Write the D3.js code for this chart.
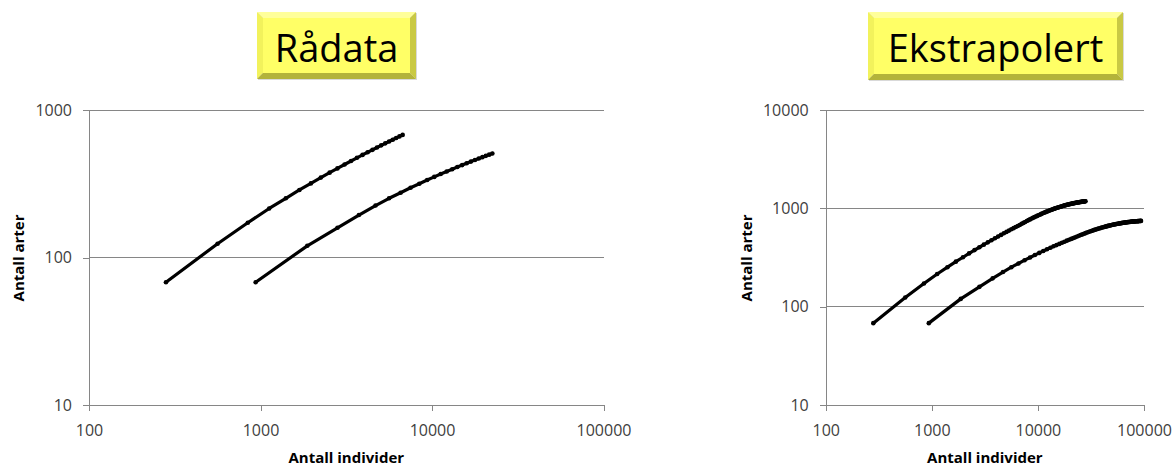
<!DOCTYPE html>
<html>
<head>
<meta charset="utf-8">
<script src="https://cdn.jsdelivr.net/npm/d3@7"></script>
<style>
  body { margin: 0; background: #fff; }
  svg { display: block; }
</style>
</head>
<body>
<svg id="chart" width="1175" height="466"></svg>
<script>
// Sample-based species accumulation: individuals sampled vs. number of species.
// Series A (smaller sample) and series B (larger sample); first 24 samples are observed,
// samples 25-100 are extrapolated.
const individualsA = [281, 562, 843, 1124, 1405, 1686, 1967, 2248, 2529, 2810, 3091, 3372, 3653, 3934, 4215, 4496, 4777, 5058, 5339, 5620, 5901, 6182, 6463, 6744,
  7025, 7306, 7587, 7868, 8149, 8430, 8711, 8992, 9273, 9554, 9835, 10116, 10397, 10678, 10959, 11240, 11521, 11802, 12083, 12364, 12645, 12926, 13207, 13488, 13769, 14050,
  14331, 14612, 14893, 15174, 15455, 15736, 16017, 16298, 16579, 16860, 17141, 17422, 17703, 17984, 18265, 18546, 18827, 19108, 19389, 19670, 19951, 20232, 20513, 20794, 21075,
  21356, 21637, 21918, 22199, 22480, 22761, 23042, 23323, 23604, 23885, 24166, 24447, 24728, 25009, 25290, 25571, 25852, 26133, 26414, 26695, 26976, 27257, 27538, 27819, 28100];
const speciesA = [68, 124, 172, 215, 252, 287, 318, 348, 376, 402, 427, 451, 474, 496, 517, 537, 557, 576, 594, 612, 629, 646, 662, 678,
  695, 711, 727, 743, 758, 772, 786, 800, 813, 826, 838, 850, 862, 873, 884, 895, 905, 915, 925, 934, 943, 952, 961, 969, 977, 985,
  993, 1000, 1007, 1014, 1021, 1027, 1033, 1039, 1045, 1051, 1057, 1062, 1067, 1072, 1077, 1082, 1087, 1091, 1095, 1100, 1104, 1108, 1111, 1115, 1119,
  1122, 1126, 1129, 1132, 1135, 1138, 1141, 1144, 1147, 1149, 1152, 1154, 1157, 1159, 1161, 1163, 1166, 1168, 1170, 1171, 1173, 1175, 1177, 1179, 1180];

const individualsB = [937, 1874, 2811, 3748, 4685, 5622, 6559, 7496, 8433, 9370, 10307, 11244, 12181, 13118, 14055, 14992, 15929, 16866, 17803, 18740, 19677, 20614, 21551, 22488,
  23425, 24362, 25299, 26236, 27173, 28110, 29047, 29984, 30921, 31858, 32795, 33732, 34669, 35606, 36543, 37480, 38417, 39354, 40291, 41228, 42165, 43102, 44039, 44976, 45913, 46850,
  47787, 48724, 49661, 50598, 51535, 52472, 53409, 54346, 55283, 56220, 57157, 58094, 59031, 59968, 60905, 61842, 62779, 63716, 64653, 65590, 66527, 67464, 68401, 69338, 70275,
  71212, 72149, 73086, 74023, 74960, 75897, 76834, 77771, 78708, 79645, 80582, 81519, 82456, 83393, 84330, 85267, 86204, 87141, 88078, 89015, 89952, 90889, 91826, 92763, 93700];
const speciesB = [68, 120, 159, 194, 225, 252, 275, 297, 316, 335, 352, 368, 383, 397, 411, 423, 435, 447, 458, 469, 479, 489, 498, 507,
  517, 526, 535, 543, 551, 559, 567, 574, 581, 588, 594, 601, 607, 612, 618, 623, 628, 633, 638, 643, 647, 651, 655, 659, 663, 667,
  670, 673, 677, 680, 683, 686, 688, 691, 694, 696, 698, 701, 703, 705, 707, 709, 711, 713, 714, 716, 718, 719, 721, 722, 724,
  725, 726, 727, 729, 730, 731, 732, 733, 734, 735, 736, 737, 737, 738, 739, 740, 740, 741, 742, 742, 743, 744, 744, 745, 745];

const observedSamples = 24;

const xTicks = [100, 1000, 10000, 100000];
const yTicksRaw = [10, 100, 1000];
const yTicksExtra = [10, 100, 1000, 10000];

const titles = ["Rådata", "Ekstrapolert"];
const xTitle = "Antall individer";
const yTitle = "Antall arter";

const svg = d3.select("#chart");
const gridColor = "#868686";
const fontFamily = "'Open Sans', 'Liberation Sans', sans-serif";

function titleBox(x0, y0, w, h, text) {
  const g = svg.append("g");
  const b = 6;
  // faint drop shadow
  g.append("rect").attr("x", x0 + 1).attr("y", y0 + 1).attr("width", w).attr("height", h)
    .attr("fill", "#d9d9d9");
  // bevelled frame
  const x1 = x0 + w, y1 = y0 + h;
  const face = (pts, fill) => g.append("polygon").attr("points", pts.map(p => p.join(",")).join(" ")).attr("fill", fill);
  face([[x0, y0], [x1, y0], [x1 - b, y0 + b], [x0 + b, y0 + b]], "#ffff9a");
  face([[x0, y0], [x0 + b, y0 + b], [x0 + b, y1 - b], [x0, y1]], "#f2f25c");
  face([[x0, y1], [x0 + b, y1 - b], [x1 - b, y1 - b], [x1, y1]], "#b3b33a");
  face([[x1, y0], [x1, y1], [x1 - b, y1 - b], [x1 - b, y0 + b]], "#c9c944");
  g.append("rect").attr("x", x0 + b).attr("y", y0 + b).attr("width", w - 2 * b).attr("height", h - 2 * b)
    .attr("fill", "#ffff66");
  g.append("text").attr("x", x0 + w / 2).attr("y", y0 + 50)
    .attr("text-anchor", "middle")
    .attr("font-family", fontFamily).attr("font-size", 38).attr("fill", "#000")
    .text(text);
}

function panel(opt) {
  const x = d3.scaleLog().domain([100, 100000]).range([opt.left, opt.right]);
  const y = d3.scaleLog().domain([opt.yTicks[0], opt.yTicks[opt.yTicks.length - 1]]).range([405, 110]);
  const g = svg.append("g");

  // horizontal gridlines
  g.selectAll("line.grid").data(opt.yTicks.slice(1)).join("line")
    .attr("x1", opt.left).attr("x2", opt.right)
    .attr("y1", d => y(d)).attr("y2", d => y(d))
    .attr("stroke", gridColor).attr("stroke-width", 1).attr("shape-rendering", "crispEdges");

  const yAxis = g.append("g").attr("transform", `translate(${opt.left},0)`)
    .call(d3.axisLeft(y).tickValues(opt.yTicks).tickFormat(d3.format("d")).tickSize(6).tickPadding(11));
  const xAxis = g.append("g").attr("transform", "translate(0,405)")
    .call(d3.axisBottom(x).tickValues(xTicks).tickFormat(d3.format("d")).tickSize(6).tickPadding(14));
  [yAxis, xAxis].forEach(a => {
    a.selectAll("path, line").attr("stroke", gridColor).attr("shape-rendering", "crispEdges");
    a.selectAll("text").attr("font-family", fontFamily).attr("font-size", 16).attr("fill", "#404040");
  });

  // axis titles
  g.append("text")
    .attr("transform", `translate(${opt.yTitleX},258) rotate(-90)`)
    .attr("text-anchor", "middle")
    .attr("font-family", fontFamily).attr("font-weight", "bold").attr("font-size", 15).attr("fill", "#000")
    .text(yTitle);
  g.append("text")
    .attr("x", (opt.left + opt.right) / 2).attr("y", 463)
    .attr("text-anchor", "middle")
    .attr("font-family", fontFamily).attr("font-weight", "bold").attr("font-size", 15).attr("fill", "#000")
    .text(xTitle);

  const line = d3.line().x(d => x(d[0])).y(d => y(d[1]));
  opt.series.forEach(s => {
    const pts = d3.zip(s.xs, s.ys);
    g.append("path").datum(pts).attr("d", line)
      .attr("fill", "none").attr("stroke", "#000").attr("stroke-width", 3.2)
      .attr("stroke-linejoin", "round").attr("stroke-linecap", "round");
    g.append("g").selectAll("circle").data(pts).join("circle")
      .attr("cx", d => x(d[0])).attr("cy", d => y(d[1])).attr("r", 2.3).attr("fill", "#000");
  });
}

titleBox(257, 12, 159, 67, titles[0]);
titleBox(868, 12, 255, 68, titles[1]);

panel({
  left: 89, right: 603.5, yTicks: yTicksRaw, yTitleX: 23.5,
  series: [
    { xs: individualsA.slice(0, observedSamples), ys: speciesA.slice(0, observedSamples) },
    { xs: individualsB.slice(0, observedSamples), ys: speciesB.slice(0, observedSamples) }
  ]
});

panel({
  left: 825.7, right: 1144, yTicks: yTicksExtra, yTitleX: 752,
  series: [
    { xs: individualsA, ys: speciesA },
    { xs: individualsB, ys: speciesB }
  ]
});
</script>
</body>
</html>
